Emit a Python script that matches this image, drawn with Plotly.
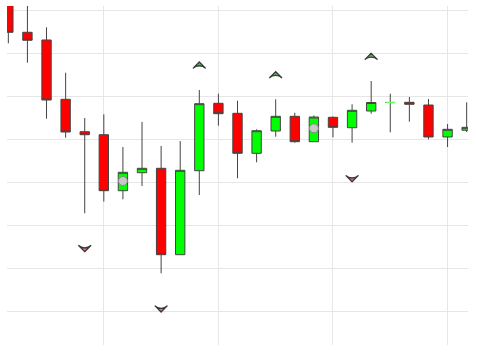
import plotly.graph_objects as go

idx = list(range(25))
open_ = [84.5, 75.04, 73.25, 59.44, 51.90, 51.20, 38.17, 42.36, 43.38, 23.27, 42.82, 58.51, 56.18,
         46.87, 52.06, 55.48, 49.57, 55.25, 52.83, 56.72, 58.70, 58.74, 58.11, 50.67, 52.23]
high = [86.0, 81.86, 76.20, 65.63, 55.09, 55.95, 48.34, 54.16, 48.57, 49.73, 61.61, 60.74, 59.12,
        52.46, 59.44, 56.32, 55.67, 55.44, 58.28, 63.70, 60.74, 59.98, 59.51, 53.69, 58.74]
low = [72.48, 67.96, 54.93, 50.50, 32.91, 35.61, 36.16, 39.26, 18.94, 23.20, 37.16, 53.30, 41.05,
       44.78, 50.74, 49.34, 49.50, 50.60, 49.34, 56.09, 51.76, 54.23, 50.13, 48.34, 51.83]
close = [75.04, 73.18, 59.28, 51.83, 51.20, 38.17, 42.45, 43.38, 23.27, 42.91, 58.42, 56.09, 46.87,
         52.13, 55.48, 49.57, 55.32, 52.92, 56.88, 58.70, 58.70, 58.28, 50.67, 52.46, 52.92]

# doji candle (open == close) drawn with a light green body line
doji_x = [20]
doji_y = [58.70]

up_x = [10, 14, 19]
up_y = [68.12, 65.87, 70.15]
down_x = [4, 8, 18]
down_y = [23.97, 9.93, 40.26]
dot_x = [6, 16]
dot_y = [40.42, 52.69]

fig = go.Figure()
fig.add_trace(go.Candlestick(
    x=idx, open=open_, high=high, low=low, close=close,
    increasing=dict(fillcolor="#00ff00", line=dict(color="#444444", width=1)),
    decreasing=dict(fillcolor="#ff0000", line=dict(color="#444444", width=1)),
    showlegend=False,
))
fig.add_trace(go.Candlestick(
    x=doji_x, open=doji_y, high=doji_y, low=doji_y, close=doji_y,
    increasing=dict(fillcolor="#66ff66", line=dict(color="#66ff66", width=1.5)),
    decreasing=dict(fillcolor="#66ff66", line=dict(color="#66ff66", width=1.5)),
    showlegend=False,
))
fig.add_trace(go.Scatter(
    x=up_x, y=up_y, mode="markers",
    marker=dict(symbol="arrow-wide", angle=0, size=9, color="#5cb85c",
                line=dict(color="#3a3a3a", width=1.3)),
    showlegend=False,
))
fig.add_trace(go.Scatter(
    x=down_x, y=down_y, mode="markers",
    marker=dict(symbol="arrow-wide", angle=180, size=9, color="#f26b6b",
                line=dict(color="#3a3a3a", width=1.3)),
    showlegend=False,
))
fig.add_trace(go.Scatter(
    x=dot_x, y=dot_y, mode="markers",
    marker=dict(symbol="circle", size=9, color="#c8c8c8",
                line=dict(color="#888888", width=1)),
    showlegend=False,
))
fig.update_layout(
    width=477, height=362,
    margin=dict(l=7, r=9, t=6, b=17),
    paper_bgcolor="white", plot_bgcolor="white",
    xaxis=dict(range=[-0.07, 24.07], tick0=5, dtick=6, showticklabels=False,
               showgrid=True, gridcolor="#e6e6e6", zeroline=False,
               rangeslider=dict(visible=False), showline=False),
    yaxis=dict(range=[2.25, 81.16], tick0=0, dtick=10, showticklabels=False,
               showgrid=True, gridcolor="#e6e6e6", zeroline=False, showline=False),
)
fig.write_html("out.html")
